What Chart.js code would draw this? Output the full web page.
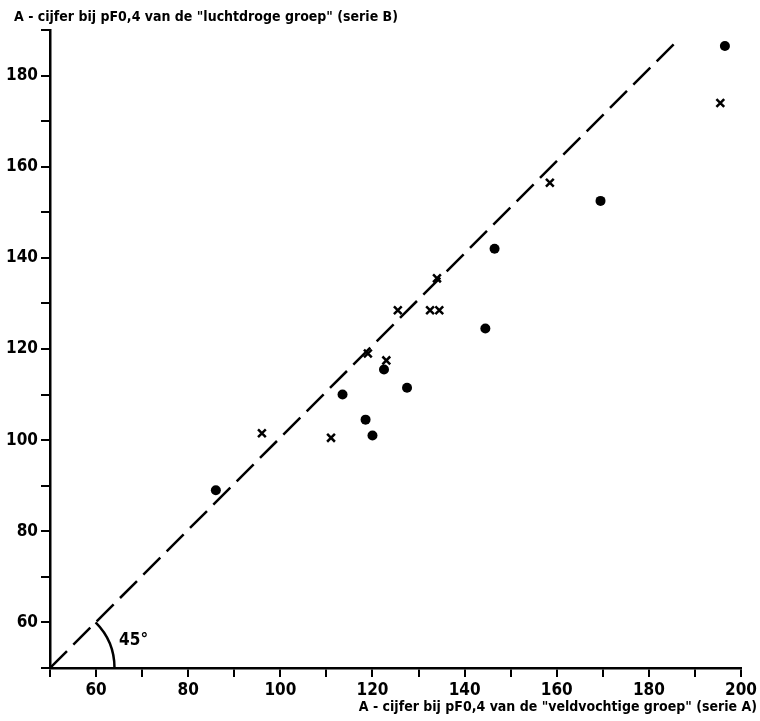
<!DOCTYPE html>
<html>
<head>
<meta charset="utf-8">
<script src="https://cdn.jsdelivr.net/npm/chart.js@4/dist/chart.umd.min.js"></script>
<style>
  body { margin:0; background:#fff; }
  #wrap { width:760px; height:721px; }
</style>
</head>
<body>
<div id="wrap"><canvas id="c" width="760" height="721"></canvas></div>
<script>
// -- dati --
const dotX   = [86, 113.5, 118.5, 120, 122.5, 127.5, 144.5, 146.5, 169.5, 196.5];
const dotY   = [89, 110, 104.5, 101, 115.5, 111.5, 124.5, 142, 152.5, 186.5];
const crossX = [96, 111, 119, 123, 125.5, 132.5, 134.5, 134, 158.5, 195.5];
const crossY = [101.5, 100.5, 119, 117.5, 128.5, 128.5, 128.5, 135.5, 156.5, 174];
const lineX  = [50, 186];
const lineY  = [50, 187.5];
const xTickLabels = [60, 80, 100, 120, 140, 160, 180, 200];
const yTickLabels = [60, 80, 100, 120, 140, 160, 180];
const yTitle = 'A - cijfer bij pF0,4 van de "luchtdroge groep" (serie B)';
const xTitle = 'A - cijfer bij pF0,4 van de "veldvochtige groep" (serie A)';
const angleLabel = '45°';

const FONT = '"Liberation Sans Narrow", "DejaVu Sans Condensed", Arial, sans-serif';
const pts = (xs, ys) => xs.map((x, i) => ({ x, y: ys[i] }));

// -- testi, arco 45° --
const extras = {
  id: 'extras',
  afterDraw(chart) {
    const ctx = chart.ctx, xs = chart.scales.x, ys = chart.scales.y;
    ctx.save();
    ctx.fillStyle = '#000';
    ctx.font = 'bold 14px ' + FONT;
    ctx.textBaseline = 'alphabetic';
    ctx.textAlign = 'left';
    ctx.fillText(yTitle, 14, 21);
    ctx.textAlign = 'right';
    ctx.fillText(xTitle, 757, 711);

    // arco dell'angolo
    const cx = xs.getPixelForValue(lineX[0]), cy = ys.getPixelForValue(lineY[0]);
    const r = xs.getPixelForValue(64) - cx;
    const ang = Math.atan2(ys.getPixelForValue(lineY[1]) - cy, xs.getPixelForValue(lineX[1]) - cx);
    ctx.strokeStyle = '#000';
    ctx.lineWidth = 2.5;
    ctx.beginPath();
    ctx.arc(cx, cy, r, ang, 0);
    ctx.stroke();

    ctx.textAlign = 'left';
    ctx.textBaseline = 'middle';
    ctx.font = 'bold 17px ' + FONT;
    ctx.fillText(angleLabel, xs.getPixelForValue(65), ys.getPixelForValue(56));
    ctx.restore();
  }
};

function axis(min, max, labels, fit) {
  return {
    type: 'linear', min, max,
    afterFit: fit,
    border: { display: true, color: '#000', width: 2.5 },
    grid: { drawOnChartArea: false, drawTicks: true, tickLength: 9, color: '#000', lineWidth: 2 },
    ticks: {
      stepSize: 10, maxTicksLimit: 20, autoSkip: false, maxRotation: 0, padding: 3,
      color: '#000', font: { family: FONT, size: 17, weight: 'bold' },
      callback: v => labels.includes(v) ? String(v) : ''
    }
  };
}

new Chart(document.getElementById('c'), {
  type: 'scatter',
  data: {
    datasets: [
      { label: '45°', data: pts(lineX, lineY), showLine: true, pointRadius: 0,
        borderColor: '#000', borderWidth: 2.5, borderDash: [24, 9], fill: false },
      { label: 'dots', data: pts(dotX, dotY), pointStyle: 'circle', pointRadius: 5,
        backgroundColor: '#000', borderColor: '#000', borderWidth: 0 },
      { label: 'crosses', data: pts(crossX, crossY), pointStyle: 'crossRot', pointRadius: 5.5,
        borderColor: '#000', borderWidth: 2.5 }
    ]
  },
  options: {
    responsive: false,
    animation: false,
    layout: { padding: { top: 30, right: 15, left: 0, bottom: 0 } },
    plugins: { legend: { display: false }, tooltip: { enabled: false } },
    scales: {
      x: axis(50, 200, xTickLabels, s => { s.height = 53; }),
      y: axis(50, 190, yTickLabels, s => { s.width = 50; })
    }
  },
  plugins: [extras]
});
</script>
</body>
</html>
